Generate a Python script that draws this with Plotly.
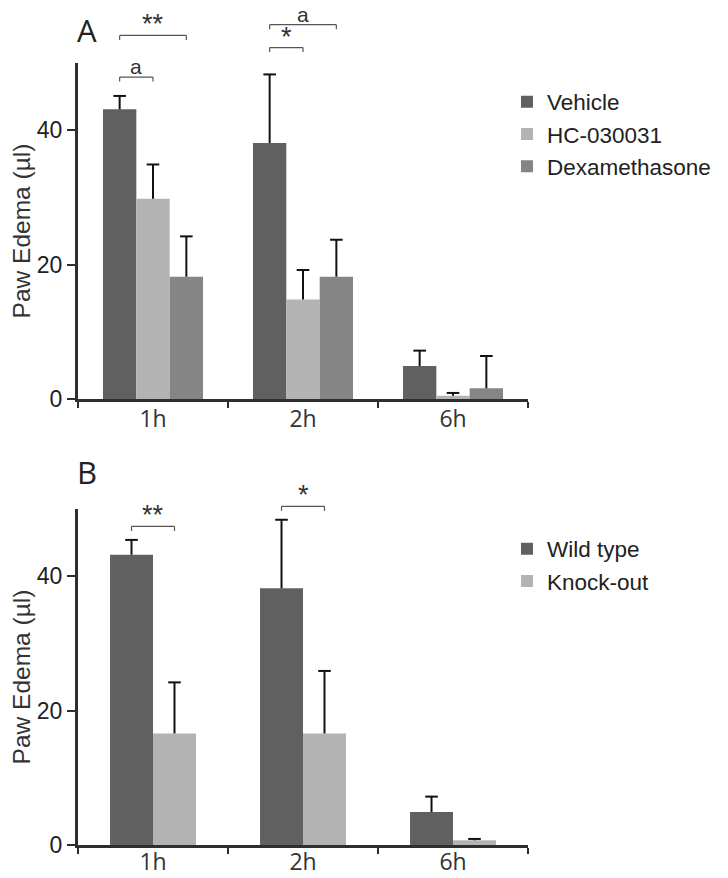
import plotly.graph_objects as go

# ---------------- data ----------------
categories = ["1h", "2h", "6h"]

vehicle = [43.1, 38.1, 4.9]
vehicle_err = [2.0, 10.2, 2.3]
hc030031 = [29.8, 14.8, 0.5]
hc030031_err = [5.1, 4.4, 0.4]
dexamethasone = [18.2, 18.2, 1.6]
dexamethasone_err = [6.0, 5.5, 4.8]

wild_type = [43.2, 38.2, 4.9]
wild_type_err = [2.2, 10.2, 2.3]
knock_out = [16.6, 16.6, 0.7]
knock_out_err = [7.6, 9.3, 0.2]

y_ticks = [0, 20, 40]
YMAX = 50

# significance brackets: (category index, left bar, right bar, level, label)
brackets_a = [
    (0, 0, 2, 54.1, "**"),
    (0, 0, 1, 47.9, "a"),
    (1, 0, 2, 55.7, "a"),
    (1, 0, 1, 52.3, "*"),
]
brackets_b = [
    (0, 0, 1, 47.4, "**"),
    (1, 0, 1, 50.4, "*"),
]

# ---------------- style ----------------
C_DARK = "#606060"
C_LIGHT = "#b3b3b3"
C_MID = "#858585"
AXIS_C = "#2e2e2e"
ERR_C = "#111111"
FONT = "Liberation Sans, Arial, sans-serif"
FONT2 = "Open Sans, Liberation Sans, sans-serif"
GAP_A = 0.333
GAP_B = 0.427

# the page body adds an 8px margin, so the figure is 8px smaller and
# every screen position below is converted with that offset
OFF = 8
W, H = 728 - OFF, 878 - OFF
ML, MR = 78 - OFF, 200
MT, MB = 10, 33
ph = H - MT - MB
pw = W - ML - MR


def py(pix):  # screen y -> paper y
    return (H - MB - (pix - OFF)) / ph


def px(pix):  # screen x -> paper x
    return (pix - OFF - ML) / pw


fig = go.Figure()


def add_bars(name, vals, color, xa, ya, legend, width=None, offset=None):
    fig.add_trace(go.Bar(
        x=categories, y=vals, name=name, marker_color=color,
        marker_line_width=0, width=width, offset=offset,
        xaxis=xa, yaxis=ya, legend=legend, legendgroup=name,
    ))


def add_errors(series, gap, xa, ya):
    """Upper-only error bars without a cap at the bar top."""
    n = len(series)
    bw = (1 - gap) / n
    lx, ly, cx, cy = [], [], [], []
    for i, (vals, errs) in enumerate(series):
        for c, (v, e) in enumerate(zip(vals, errs)):
            xc = c - (1 - gap) / 2 + bw * (i + 0.5)
            lx += [xc, xc, None]
            ly += [v, v + e, None]
            cx.append(xc)
            cy.append(v + e)
    fig.add_trace(go.Scatter(x=lx, y=ly, mode="lines", line=dict(color=ERR_C, width=2),
                             xaxis=xa, yaxis=ya, showlegend=False, hoverinfo="skip"))
    fig.add_trace(go.Scatter(x=cx, y=cy, mode="markers", cliponaxis=False,
                             marker=dict(symbol="line-ew", size=9,
                                         line=dict(color=ERR_C, width=2)),
                             xaxis=xa, yaxis=ya, showlegend=False, hoverinfo="skip"))


wb = (1 - GAP_B) / 2
add_bars("Vehicle", vehicle, C_DARK, "x", "y", "legend")
add_bars("HC-030031", hc030031, C_LIGHT, "x", "y", "legend")
add_bars("Dexamethasone", dexamethasone, C_MID, "x", "y", "legend")
add_bars("Wild type", wild_type, C_DARK, "x2", "y2", "legend2", wb, -wb)
add_bars("Knock-out", knock_out, C_LIGHT, "x2", "y2", "legend2", wb, 0)

add_errors([(vehicle, vehicle_err), (hc030031, hc030031_err),
            (dexamethasone, dexamethasone_err)], GAP_A, "x3", "y")
add_errors([(wild_type, wild_type_err), (knock_out, knock_out_err)], GAP_B, "x4", "y2")

dom_a = [py(399), py(63)]
dom_b = [py(845), py(509)]

xaxis_common = dict(
    type="category", showline=True, linewidth=3, linecolor=AXIS_C,
    ticks="outside", tickson="boundaries", ticklen=6, tickwidth=2, tickcolor=AXIS_C,
    tickfont=dict(family=FONT2, size=23, color="#333333"),
    showgrid=False, zeroline=False, range=[-0.5, 2.5], fixedrange=True,
    automargin=False,
)
overlay_common = dict(range=[-0.5, 2.5], visible=False, showgrid=False,
                      zeroline=False, automargin=False)
yaxis_common = dict(
    range=[0, YMAX], tickvals=y_ticks, showline=True, linewidth=3, linecolor=AXIS_C,
    ticks="outside", ticklen=8, tickwidth=2, tickcolor=AXIS_C,
    tickfont=dict(family=FONT, size=23, color="#222222"),
    showgrid=False, zeroline=False, automargin=False,
    title=dict(text="Paw Edema (µl)", font=dict(family=FONT, size=24.5, color="#333333"),
               standoff=2),
)

legend_common = dict(
    font=dict(family=FONT, size=22.5, color="#222222"),
    bgcolor="rgba(0,0,0,0)", tracegroupgap=5, itemwidth=30,
    xanchor="left", yanchor="middle", traceorder="normal",
)

fig.update_layout(
    width=W, height=H,
    margin=dict(l=ML, r=MR, t=MT, b=MB, autoexpand=False),
    paper_bgcolor="white", plot_bgcolor="white",
    barmode="group",
    bargap=GAP_A,
    showlegend=True,
    xaxis=dict(domain=[0, 1], anchor="y", ticklabelstandoff=-3, **xaxis_common),
    yaxis=dict(domain=dom_a, anchor="x", **yaxis_common),
    xaxis2=dict(domain=[0, 1], anchor="y2", ticklabelstandoff=-6, **xaxis_common),
    yaxis2=dict(domain=dom_b, anchor="x2", **yaxis_common),
    xaxis3=dict(overlaying="x", anchor="y", **overlay_common),
    xaxis4=dict(overlaying="x2", anchor="y2", **overlay_common),
    legend=dict(x=px(507), y=py(134), **legend_common),
    legend2=dict(x=px(507), y=py(565), **legend_common),
)


def add_brackets(brs, nbars, gap, xref, yref):
    bw = (1 - gap) / nbars
    for cat, b1, b2, level, label in brs:
        x1 = cat - (1 - gap) / 2 + bw * (b1 + 0.5)
        x2 = cat - (1 - gap) / 2 + bw * (b2 + 0.5)
        yd = level / YMAX
        tick = 4.5 / 336
        line = dict(color="#555555", width=1.2)
        fig.add_shape(type="line", xref=xref, yref=yref + " domain",
                      x0=x1, x1=x2, y0=yd, y1=yd, line=line)
        for xx in (x1, x2):
            fig.add_shape(type="line", xref=xref, yref=yref + " domain",
                          x0=xx, x1=xx, y0=yd, y1=yd - tick, line=line)
        is_a = label == "a"
        fig.add_annotation(xref=xref, yref=yref + " domain", x=(x1 + x2) / 2, y=yd,
                           text=label, showarrow=False, yanchor="bottom",
                           yshift=-3 if is_a else -6,
                           font=dict(family=FONT, size=21 if is_a else 27,
                                     color="#333333"))


add_brackets(brackets_a, 3, GAP_A, "x", "y")
add_brackets(brackets_b, 2, GAP_B, "x2", "y2")

# panel letters
for letter, pix in (("A", 30), ("B", 472)):
    fig.add_annotation(xref="paper", yref="paper", x=px(87), y=py(pix),
                       text=letter, showarrow=False, xanchor="center", yanchor="middle",
                       font=dict(family=FONT2, size=31, color="#222222"))

fig.write_html("out.html")
